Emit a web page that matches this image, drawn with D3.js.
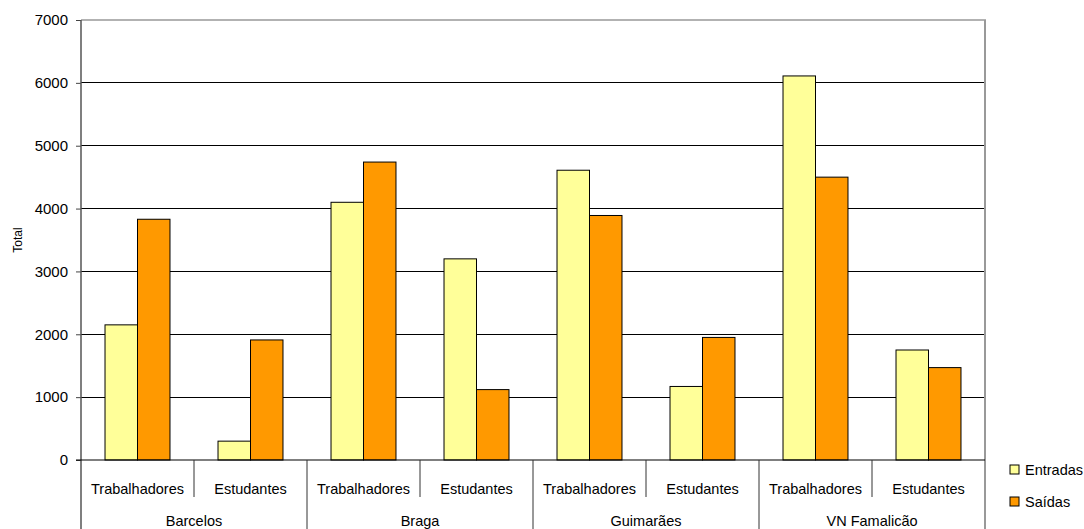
<!DOCTYPE html>
<html><head><meta charset="utf-8">
<script src="https://cdn.jsdelivr.net/npm/d3@7"></script>
<style>body{margin:0;background:#fff}text{font-family:"Liberation Sans",Arial,sans-serif;fill:#000}</style>
</head><body><svg id="c" width="1084" height="529"></svg>
<script>
const groups = ["Barcelos","Braga","Guimarães","VN Famalicão"];
const subcats = ["Trabalhadores","Estudantes"];
const series = ["Entradas","Saídas"];
const entradas = [2150, 300, 4100, 3200, 4610, 1170, 6110, 1750];
const saidas = [3830, 1910, 4740, 1120, 3890, 1950, 4500, 1470];
const yTicks = [0,1000,2000,3000,4000,5000,6000,7000];
const colors = ["#FFFF99","#FF9900"];

const svg = d3.select("#c");
const L=81, R=985, T=20, B=460;
const cats = [];
groups.forEach((g,i)=>subcats.forEach((s,j)=>cats.push({g,s,id:i*2+j})));
const x = d3.scaleBand().domain(cats.map(c=>c.id)).range([L,R]).paddingInner(0.425).paddingOuter(0.2125);
const xs = d3.scaleBand().domain(series).range([0,x.bandwidth()]);
const y = d3.scaleLinear().domain([0,7000]).range([B,T]);
const step = (R-L)/cats.length;

// gridlines
svg.append("g").selectAll("line").data(yTicks.filter(v=>v>0&&v<7000)).join("line")
  .attr("x1",L).attr("x2",R).attr("y1",d=>y(d)).attr("y2",d=>y(d))
  .attr("stroke","#000").attr("stroke-width",1).attr("shape-rendering","crispEdges");
// top & right border
svg.append("line").attr("x1",L).attr("x2",R+1).attr("y1",T).attr("y2",T).attr("stroke","#999").attr("stroke-width",1.5);
svg.append("line").attr("x1",R).attr("x2",R).attr("y1",T).attr("y2",529).attr("stroke","#999").attr("stroke-width",2);

// bars
const data = cats.map((c,i)=>({c, vals:[entradas[i], saidas[i]]}));
const gb = svg.append("g").selectAll("g").data(data).join("g").attr("transform",d=>`translate(${x(d.c.id)},0)`);
gb.selectAll("rect").data(d=>d.vals.map((v,k)=>({v,k}))).join("rect")
  .attr("x",d=>xs(series[d.k])).attr("width",xs.bandwidth())
  .attr("y",d=>y(d.v)).attr("height",d=>B-y(d.v))
  .attr("fill",d=>colors[d.k]).attr("stroke","#000").attr("stroke-width",1);

// y axis
const ya = d3.axisLeft(y).tickValues(yTicks).tickFormat(d3.format("d")).tickSize(5).tickSizeOuter(0).tickPadding(8);
const yg = svg.append("g").attr("transform",`translate(${L},0)`).call(ya);
yg.select(".domain").remove();
yg.selectAll("line").attr("stroke","#444");
yg.selectAll("text").style("font-size","15px").attr("fill","#000");
svg.append("line").attr("x1",L).attr("x2",L).attr("y1",T).attr("y2",529).attr("stroke","#555").attr("stroke-width",1.5);

// x baseline
svg.append("line").attr("x1",L-5).attr("x2",R).attr("y1",B).attr("y2",B).attr("stroke","#000").attr("stroke-width",1.2);
// separators
cats.forEach((c,i)=>{
  if(i===0) return;
  const xx = L + step*i;
  const long = i%2===0;
  svg.append("line").attr("x1",xx).attr("x2",xx).attr("y1",B).attr("y2",long?529:497).attr("stroke","#333").attr("stroke-width",1);
});
// subcat labels
svg.append("g").selectAll("text").data(cats).join("text")
  .attr("x",d=>x(d.id)+x.bandwidth()/2).attr("y",494).attr("text-anchor","middle")
  .style("font-size","14.5px").text(d=>d.s);
svg.append("g").selectAll("text").data(groups).join("text")
  .attr("x",(d,i)=>L+step*(2*i+1)).attr("y",526).attr("text-anchor","middle")
  .style("font-size","14.5px").text(d=>d);

// y title
svg.append("text").attr("transform","translate(22,240) rotate(-90)").attr("text-anchor","middle")
  .style("font-size","12px").text("Total");

// legend
const lg = svg.append("g").selectAll("g").data(series).join("g").attr("transform",(d,i)=>`translate(1010,${465+i*32})`);
lg.append("rect").attr("width",9).attr("height",9).attr("fill",(d,i)=>colors[i]).attr("stroke","#000");
lg.append("text").attr("x",15).attr("y",10).style("font-size","14.5px").text(d=>d);
</script></body></html>
